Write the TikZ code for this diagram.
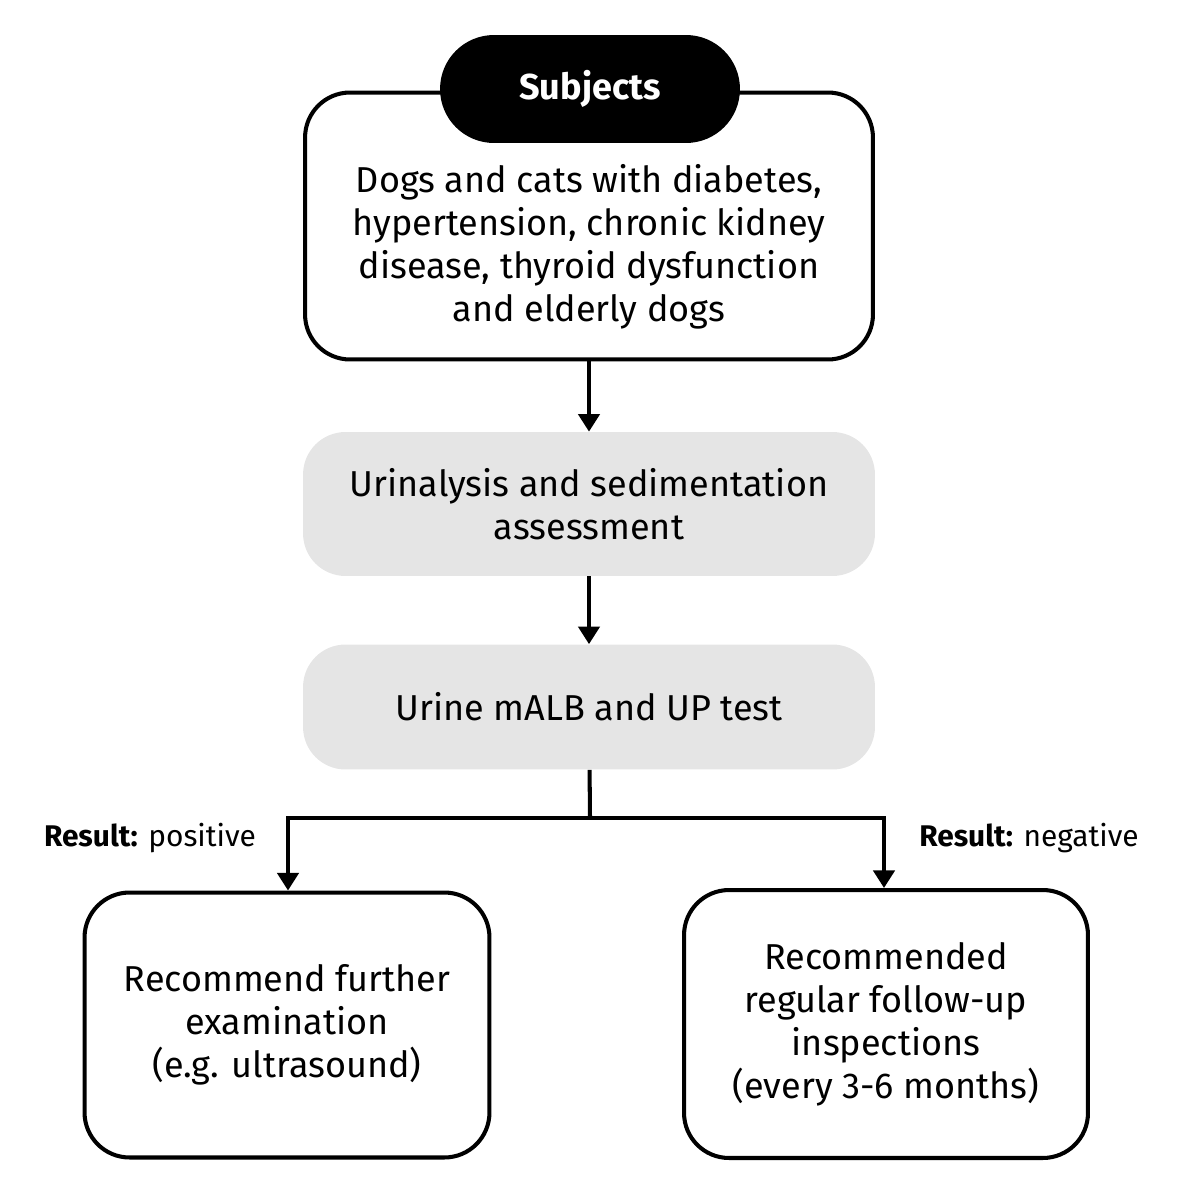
\documentclass[tikz,border=0pt]{standalone}
\usepackage{fontspec}
\setmainfont{Fira Sans}
\usetikzlibrary{arrows.meta}
\begin{document}
\tikzset{
  box/.style={draw, line width=2.3pt, rounded corners=0.9cm, align=center, font=\fontsize{20.5}{24.5}\selectfont},
  grey/.style={fill=black!10, rounded corners=0.85cm, align=center, font=\fontsize{20.5}{24.5}\selectfont},
  link/.style={line width=2.3pt, -{Triangle[length=10pt,width=12pt]}}
}
\begin{tikzpicture}[x=0.02cm,y=-0.02cm]
\useasboundingbox (0,0) rectangle (1179,1200);
\node[box, minimum width=11.36cm, minimum height=5.34cm] (subj) at (589,226) {};
\node[align=center, font=\fontsize{20.5}{24.5}\selectfont] (subjtext) at (589,247) {Dogs and cats with diabetes,\\hypertension, chronic kidney\\disease, thyroid dysfunction\\and elderly dogs};
\node[fill=black, text=white, rounded corners=1.08cm, minimum width=6cm, minimum height=2.16cm, font=\fontsize{20.5}{24}\selectfont\bfseries] (head) at (590,89) {Subjects};
\node[grey, minimum width=11.44cm, minimum height=2.88cm] (urin) at (589,504) {Urinalysis and sedimentation\\assessment};
\node[grey, minimum width=11.44cm, minimum height=2.5cm] (malb) at (589,707) {Urine mALB and UP test};
\node[box, minimum width=8.1cm, minimum height=5.3cm] (pos) at (287,1025) {Recommend further\\examination\\(e.g. ultrasound)};
\node[box, minimum width=8.08cm, minimum height=5.36cm] (neg) at (886,1024) {Recommended\\regular follow-up\\inspections\\(every 3-6 months)};
\coordinate (split) at (590,818);
\node[font=\fontsize{17}{18}\selectfont] (poslab) at (150,838) {\textbf{Result:} positive};
\node[font=\fontsize{17}{18}\selectfont] (neglab) at (1029,838) {\textbf{Result:} negative};

\draw[link] (subj) -- (urin);
\draw[link] (urin) -- (malb);
\draw[line width=2.3pt] (malb) -- (split);
\draw[link] (split) -| (pos.north -| 288,0);
\draw[link] (split) -| (neg.north -| 884,0);
\end{tikzpicture}
\end{document}
